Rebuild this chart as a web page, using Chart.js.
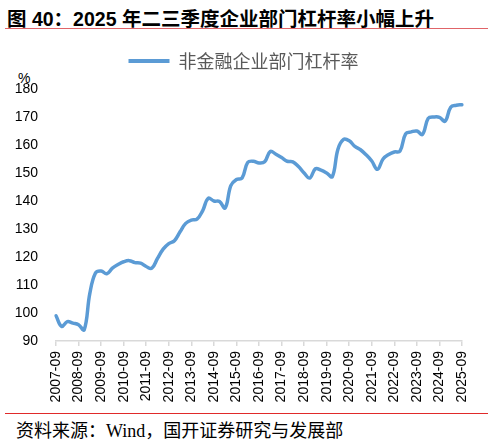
<!DOCTYPE html>
<html>
<head>
<meta charset="utf-8">
<script src="https://cdn.jsdelivr.net/npm/chart.js@4.4.1/dist/chart.umd.min.js"></script>
<style>
  html, body { margin: 0; padding: 0; background: #fff; }
  body { width: 493px; height: 441px; position: relative; overflow: hidden; font-family: "Liberation Sans", "Noto Sans CJK SC", sans-serif; }
  #title { position: absolute; left: 7px; top: 3px; font-size: 19.5px; font-weight: bold; color: #000; white-space: nowrap; }
  #topline { position: absolute; left: 5px; top: 28px; width: 483px; height: 0; border-top: 1.5px solid #e06468; }
  #pct { position: absolute; left: 18px; top: 70px; font-size: 14px; color: #000; }
  #wrap { position: absolute; left: 0; top: 40px; width: 493px; height: 365px; }
  #botline { position: absolute; left: 5px; top: 413px; width: 483px; height: 0; border-top: 1.5px solid #e02a2a; }
  #source { position: absolute; left: 16px; top: 416px; font-size: 18px; color: #000; white-space: nowrap; font-family: "Liberation Serif", "Noto Sans CJK SC", serif; }
</style>
</head>
<body>
<div id="title">图 40：2025 年二三季度企业部门杠杆率小幅上升</div>
<div id="topline"></div>
<div id="pct">%</div>
<div id="wrap"><canvas id="chart"></canvas></div>
<div id="botline"></div>
<div id="source">资料来源：Wind，国开证券研究与发展部</div>
<script>
// quarters 2007-09 .. 2025-09
const years = [2007, 2008, 2009, 2010, 2011, 2012, 2013, 2014, 2015, 2016,
  2017, 2018, 2019, 2020, 2021, 2022, 2023, 2024, 2025];
const months = ["03", "06", "09", "12"];
const quarters = [];
years.forEach(y => {
  months.forEach(m => {
    const q = y + "-" + m;
    if (q >= "2007-09" && q <= "2025-09") quarters.push(q);
  });
});

// 非金融企业部门杠杆率 (%)
const leverage = [
  99.0, 95.2, 96.9, 96.4, 95.8, 94.0, 107.0, 114.3,
  115.0, 114.0, 116.0, 117.3, 118.3, 118.7, 118.0, 117.8,
  116.6, 116.0, 119.5, 122.8, 124.8, 125.8, 129.0, 132.0,
  133.2, 133.5, 136.5, 141.0, 140.0, 139.8, 137.5, 145.5,
  147.7, 148.2, 153.8, 154.2, 153.6, 154.0, 157.7, 156.7,
  155.5, 154.2, 154.0, 152.3, 150.0, 148.2, 151.5, 151.0,
  150.0, 148.7, 158.5, 162.0, 161.5, 159.5, 158.3, 156.5,
  154.3, 151.3, 155.0, 156.6, 157.5, 157.8, 164.0, 164.7,
  165.0, 163.8, 169.5, 170.0, 169.9, 168.5, 173.5, 174.2,
  174.4
];

const yTicks = [90, 100, 110, 120, 130, 140, 150, 160, 170, 180];

// extra room under the legend, and nudge it right
const legendGap = {
  id: 'legendGap',
  beforeInit(chart) {
    const fit = chart.legend.fit;
    chart.legend.fit = function () {
      fit.bind(chart.legend)();
      this.height += 9;
    };
  },
  afterLayout(chart) {
    chart.legend.left += 12.5;
    chart.legend.right += 12.5;
  }
};

const ctx = document.getElementById('chart');
new Chart(ctx, {
  type: 'line',
  data: {
    labels: quarters,
    datasets: [{
      label: '非金融企业部门杠杆率',
      data: leverage,
      borderColor: '#5B9BD5',
      backgroundColor: '#5B9BD5',
      borderWidth: 3.5,
      pointRadius: 0,
      tension: 0.4,
      borderCapStyle: 'round',
      borderJoinStyle: 'round'
    }]
  },
  options: {
    responsive: true,
    maintainAspectRatio: false,
    animation: false,
    layout: { padding: { top: 2, left: 0, right: 31, bottom: 0 } },
    plugins: {
      tooltip: { enabled: false },
      legend: {
        position: 'top',
        labels: {
          boxWidth: 41,
          boxHeight: 4,
          padding: 10,
          color: '#595959',
          font: { size: 18, family: '"Noto Sans CJK SC", sans-serif' },
          generateLabels: chart => Chart.defaults.plugins.legend.labels.generateLabels(chart)
            .map(l => Object.assign(l, { lineWidth: 0 }))
        }
      }
    },
    scales: {
      x: {
        offset: false,
        afterFit: s => { s.height = 64; },
        grid: { drawOnChartArea: false, drawTicks: true, tickLength: 5, color: '#d9d9d9', lineWidth: 1.5 },
        border: { display: true, color: '#d9d9d9', width: 1.5 },
        ticks: {
          autoSkip: false,
          maxRotation: 90,
          minRotation: 90,
          padding: 5,
          color: '#000',
          font: { size: 14, family: '"Liberation Sans", Arial' },
          callback: function (v, i) {
            const q = quarters[i];
            return q.endsWith('-09') ? q : null;
          }
        }
      },
      y: {
        min: 90,
        max: 180,
        afterFit: s => { s.width = 56; },
        afterBuildTicks: s => { s.ticks = yTicks.map(v => ({ value: v })); },
        grid: { display: false, drawTicks: false },
        border: { display: false },
        ticks: {
          padding: 18,
          color: '#000',
          font: { size: 14, family: '"Liberation Sans", Arial' }
        }
      }
    }
  },
  plugins: [legendGap]
});
</script>
</body>
</html>
